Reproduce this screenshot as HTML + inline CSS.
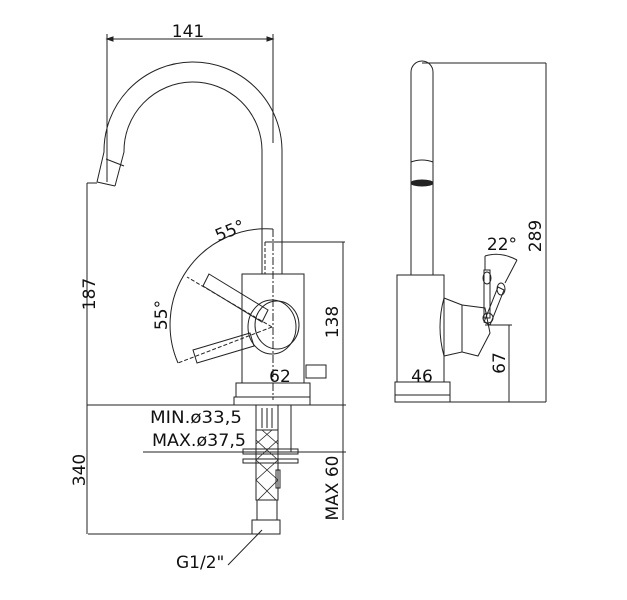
<!DOCTYPE html>
<html><head><meta charset="utf-8"><style>
html,body{margin:0;padding:0;background:#fff}
svg{display:block}
text{font-family:"DejaVu Sans","Liberation Sans",sans-serif;fill:#111}
</style></head><body>
<svg width="627" height="600" viewBox="0 0 627 600" xmlns="http://www.w3.org/2000/svg">
<g fill="none" stroke="#222" stroke-width="1">
<line x1="107" y1="39" x2="273" y2="39"/>
<line x1="107" y1="34" x2="107" y2="182"/>
<line x1="273" y1="34" x2="273" y2="143"/>
<path d="M107 39l6 -2v4z M273 39l-6 -2v4z" fill="#222"/>
<path d="M97 182 L104 152 A89 89 0 0 1 282 150 L282 274"/>
<path d="M115 186 L124 152 A69 69 0 0 1 262 150 L262 274"/>
<path d="M97 182 L115 186 M106 159 L124 166"/>
<line x1="87" y1="183" x2="97" y2="183"/>
<line x1="87" y1="183" x2="87" y2="534"/>
<rect x="242" y="274" width="62" height="109"/>
<rect x="236" y="383" width="74" height="14"/>
<rect x="234" y="397" width="76" height="8"/>
<line x1="265" y1="242" x2="265" y2="274" stroke-dasharray="4 2"/>
<line x1="282" y1="242" x2="282" y2="274"/>
<line x1="265" y1="242" x2="345" y2="242"/>
<line x1="273" y1="229" x2="273" y2="400" stroke-dasharray="8 2 2 2"/>
<rect x="306" y="365" width="20" height="13"/>
<ellipse cx="272" cy="327" rx="24" ry="27"/>
<ellipse cx="277" cy="325" rx="22" ry="24"/>
<path d="M209 274 L268 310 L262 322 L203 286 Z"/>
<path d="M193 350 L250 333 L254 346 L197 363 Z"/>
<line x1="272" y1="327" x2="187" y2="277" stroke-dasharray="4 2"/>
<line x1="272" y1="327" x2="178" y2="363" stroke-dasharray="4 2"/>
<path d="M273 229 A96 96 0 0 0 178 363"/>
<line x1="343" y1="242" x2="343" y2="520"/>
<line x1="87" y1="405" x2="346" y2="405"/>
<rect x="256" y="405" width="22" height="25"/>
<line x1="262" y1="408" x2="262" y2="428"/><line x1="267" y1="408" x2="267" y2="428"/><line x1="272" y1="408" x2="272" y2="428"/>
<line x1="291" y1="405" x2="291" y2="452"/>
<line x1="143" y1="452" x2="300" y2="452"/>
<rect x="243" y="449" width="55" height="5"/>
<rect x="243" y="459" width="55" height="4"/>
<rect x="256" y="430" width="22" height="70"/>
<path d="M256 440 L278 460 M256 460 L278 480 M256 480 L276 500 M262 430 L278 444 M278 440 L256 460 M278 460 L256 480 M278 480 L258 500 M272 430 L256 444" stroke-width="0.8"/>
<rect x="276" y="470" width="4" height="18"/>
<rect x="257" y="500" width="20" height="20"/>
<rect x="252" y="520" width="28" height="14"/>
<line x1="88" y1="534" x2="252" y2="534"/>
<line x1="282" y1="452" x2="346" y2="452"/>
<line x1="228" y1="565" x2="262" y2="530"/>
<path d="M411 275 V72 A11 11 0 0 1 433 72 V275"/>
<path d="M411 162 Q422 158 433 162"/>
<ellipse cx="422" cy="183" rx="11" ry="3" fill="#222"/>
<line x1="422" y1="63" x2="546" y2="63"/>
<rect x="397" y="275" width="47" height="107"/>
<rect x="395" y="382" width="55" height="13"/>
<rect x="395" y="395" width="55" height="7"/>
<line x1="400" y1="402" x2="546" y2="402"/>
<path d="M444 298 L462 305 L462 352 L444 356 Q436 327 444 298 Z"/>
<path d="M462 305 L485 308 L490 333 L478 356 L462 352 Z"/>
<path d="M484 270 L490 270 L490 318 L484 318 Z"/>
<ellipse cx="487" cy="278" rx="4" ry="6"/>
<path d="M498 287 L504 290 L490 325 L484 322 Z"/>
<ellipse cx="501" cy="289" rx="4" ry="6"/>
<circle cx="488" cy="318" r="5"/>
<path d="M485 256 Q500 251 517 260"/>
<line x1="485" y1="256" x2="485" y2="270"/>
<line x1="517" y1="260" x2="505" y2="283"/>
<line x1="546" y1="63" x2="546" y2="402"/>
<line x1="485" y1="325" x2="512" y2="325"/>
<line x1="509" y1="325" x2="509" y2="402"/>
</g>
<g font-size="17">
<text x="188" y="37" text-anchor="middle">141</text>
<text transform="translate(95 294) rotate(-90)" text-anchor="middle">187</text>
<text transform="translate(232 236) rotate(-22)" text-anchor="middle">55°</text>
<text transform="translate(167 315) rotate(-90)" text-anchor="middle">55°</text>
<text transform="translate(338 322) rotate(-90)" text-anchor="middle">138</text>
<text x="280" y="382" text-anchor="middle">62</text>
<text x="150" y="423" textLength="92" lengthAdjust="spacingAndGlyphs">MIN.ø33,5</text>
<text x="152" y="446" textLength="94" lengthAdjust="spacingAndGlyphs">MAX.ø37,5</text>
<text transform="translate(85 470) rotate(-90)" text-anchor="middle">340</text>
<text transform="translate(338 488) rotate(-90)" text-anchor="middle">MAX 60</text>
<text x="176" y="568">G1/2"</text>
<text x="422" y="382" text-anchor="middle">46</text>
<text x="502" y="250" text-anchor="middle">22°</text>
<text transform="translate(541 236) rotate(-90)" text-anchor="middle">289</text>
<text transform="translate(505 363) rotate(-90)" text-anchor="middle">67</text>
</g>
</svg>
</body></html>
